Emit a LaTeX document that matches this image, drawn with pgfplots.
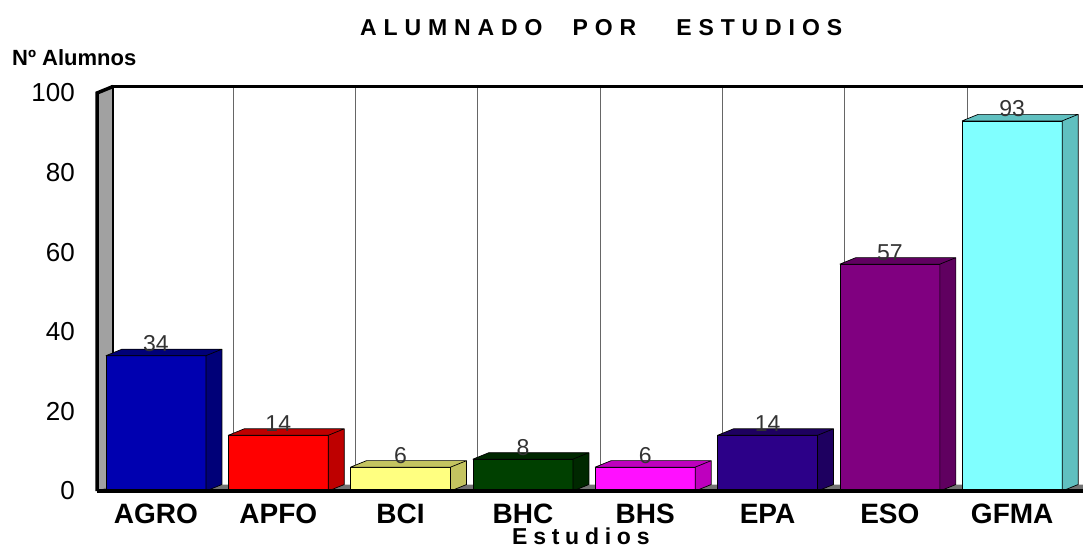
\documentclass[border=0pt]{standalone}
\usepackage{pgfplots}
\pgfplotsset{compat=1.18}
\usepackage{fontspec}
\setmainfont{Liberation Sans}
\definecolor{agroF}{RGB}{0,0,176}
\definecolor{agroS}{RGB}{0,0,120}
\definecolor{apfoF}{RGB}{255,0,0}
\definecolor{apfoS}{RGB}{190,0,0}
\definecolor{bciF}{RGB}{255,255,128}
\definecolor{bciS}{RGB}{196,196,96}
\definecolor{bhcF}{RGB}{0,64,0}
\definecolor{bhcS}{RGB}{0,40,0}
\definecolor{bhsF}{RGB}{255,16,255}
\definecolor{bhsS}{RGB}{190,0,190}
\definecolor{epaF}{RGB}{44,0,136}
\definecolor{epaS}{RGB}{30,0,96}
\definecolor{esoF}{RGB}{128,0,128}
\definecolor{esoS}{RGB}{96,0,96}
\definecolor{gfmaF}{RGB}{128,255,255}
\definecolor{gfmaS}{RGB}{96,192,192}
\newcommand{\tdbar}[4]{%
  \addplot[fill=#3, draw=black, line width=0.7pt] coordinates {(#1,#2)};
  \filldraw[fill=#4, draw=black, line width=0.7pt, line join=round]
    ([xshift=50pt]axis cs:#1,0) -- ([xshift=66pt,yshift=6.5pt]axis cs:#1,0) -- ([xshift=66pt,yshift=6.5pt]axis cs:#1,#2) -- ([xshift=50pt]axis cs:#1,#2) -- cycle
    ([xshift=-50pt]axis cs:#1,#2) -- ([xshift=-34pt,yshift=6.5pt]axis cs:#1,#2) -- ([xshift=66pt,yshift=6.5pt]axis cs:#1,#2) -- ([xshift=50pt]axis cs:#1,#2) -- cycle;
}
\begin{document}
\begin{tikzpicture}[x=1pt,y=1pt]
\useasboundingbox (0,0) rectangle (1083,-547);
\begin{axis}[
  at={(97pt,-491pt)}, anchor=south west,
  scale only axis, width=980pt, height=398pt,
  xmin=-0.482, xmax=7.53, ymin=0, ymax=100,
  ybar, bar width=100pt, bar shift=0pt,
  axis line style={draw=none},
  major tick length=0pt, minor tick length=0pt,
  xtick={0,...,7}, xticklabels={AGRO,APFO,BCI,BHC,BHS,EPA,ESO,GFMA},
  ytick={0,20,...,100},
  minor xtick={0.5,1.5,...,6.5},
  xminorgrids,
  minor grid style={draw=black!60, line width=0.8pt, xshift=16pt, yshift=6.5pt},
  xticklabel style={font=\fontsize{28}{30}\selectfont\bfseries, anchor=north, inner sep=0pt, yshift=-13pt},
  yticklabel style={font=\fontsize{26}{28}\selectfont, anchor=east, inner sep=0pt, xshift=-22pt},
  /pgf/number format/assume math mode=true,
  clip=false,
]
% left wall
\fill[black!37] (rel axis cs:0,0) -- (rel axis cs:0,1) -- ([xshift=16pt,yshift=6.5pt]rel axis cs:0,1) -- ([xshift=16pt,yshift=6.5pt]rel axis cs:0,0) -- cycle;
\draw[line width=2pt] ([xshift=16pt,yshift=6.5pt]rel axis cs:0,1) -- ([xshift=16pt,yshift=6.5pt]rel axis cs:0,0);
% back top line
\draw[line width=3.5pt] ([xshift=14pt,yshift=6.5pt]rel axis cs:0,1) -- ([xshift=6pt,yshift=6.5pt]rel axis cs:1,1);
% floor
\fill[black!55] (rel axis cs:0,0) -- ([xshift=6pt]rel axis cs:1,0) -- ([xshift=6pt,yshift=6.5pt]rel axis cs:1,0) -- ([xshift=16pt,yshift=6.5pt]rel axis cs:0,0) -- cycle;
% value labels
\addplot[draw=none, fill=none, nodes near coords,
  nodes near coords style={font=\fontsize{23}{25}\selectfont, text=black!80, anchor=base, inner sep=0pt, yshift=4pt}]
  coordinates {(0,34) (1,14) (2,6) (3,8) (4,6) (5,14) (6,57) (7,93)};
\tdbar{0}{34}{agroF}{agroS}
\tdbar{1}{14}{apfoF}{apfoS}
\tdbar{2}{6}{bciF}{bciS}
\tdbar{3}{8}{bhcF}{bhcS}
\tdbar{4}{6}{bhsF}{bhsS}
\tdbar{5}{14}{epaF}{epaS}
\tdbar{6}{57}{esoF}{esoS}
\tdbar{7}{93}{gfmaF}{gfmaS}
% front axis lines
\draw[line width=3.5pt] (rel axis cs:0,0) -- ([xshift=6pt]rel axis cs:1,0);
\draw[line width=3.5pt] (rel axis cs:0,0) -- (rel axis cs:0,1) -- ([xshift=16pt,yshift=6.5pt]rel axis cs:0,1);
\end{axis}
\node[anchor=base west, inner sep=0pt, font=\fontsize{23}{25}\selectfont\bfseries\addfontfeature{LetterSpace=30}] at (360,-35) {ALUMNADO\hspace{30pt}POR\hspace{40pt}ESTUDIOS};
\node[anchor=base west, inner sep=0pt, font=\fontsize{22}{24}\selectfont\bfseries] at (12,-65) {Nº Alumnos};
\node[anchor=base west, inner sep=0pt, font=\fontsize{23}{25}\selectfont\bfseries\addfontfeature{LetterSpace=25}] at (512,-544) {Estudios};
\end{tikzpicture}
\end{document}
